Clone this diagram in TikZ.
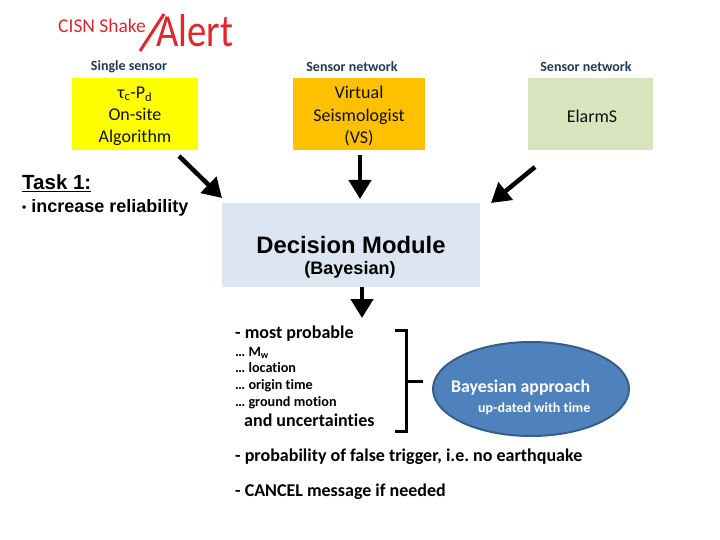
\documentclass[tikz,border=0pt]{standalone}
\usepackage{fontspec}
\setmainfont{Carlito}[Ligatures=NoCommon]
\newfontfamily\arial{Liberation Sans}
\usetikzlibrary{arrows.meta,shapes.geometric}
\definecolor{alertred}{HTML}{E3262B}
\definecolor{navy}{HTML}{1F3B5A}
\definecolor{boxyellow}{HTML}{FFFF00}
\definecolor{boxorange}{HTML}{FFC000}
\definecolor{boxgreen}{HTML}{D7E4BD}
\definecolor{boxblue}{HTML}{DCE6F2}
\definecolor{ellfill}{HTML}{4F81BD}
\definecolor{elldraw}{HTML}{385D8A}
\definecolor{txt}{HTML}{101010}
\tikzset{
  srcbox/.style={minimum width=#1, minimum height=72pt, inner sep=0pt},
  srctext/.style={inner sep=0pt, align=center, font=\fontsize{18}{22}\selectfont, text=txt},
  caption/.style={font=\bfseries\fontsize{14}{16}\selectfont, text=navy},
  bigarrow/.style={line width=4.5pt, -{Triangle[length=19pt,width=22pt]}},
  listitem/.style={anchor=base west, inner sep=0pt, font=\bfseries\fontsize{14.2}{16}\selectfont},
  mainitem/.style={anchor=base west, inner sep=0pt, font=\bfseries\fontsize{18}{20}\selectfont},
}
\begin{document}
\begin{tikzpicture}[x=1pt,y=-1pt]
\useasboundingbox (0,0) rectangle (720,540);
% title
\node[anchor=base west, inner sep=0pt, text=alertred, font=\fontsize{19.5}{22}\selectfont] (cisn) at (58,33) {CISN Shake};
\node[anchor=base west, inner sep=0pt, text=alertred, font=\fontsize{46}{50}\selectfont] (alert) at (156,47) {\scalebox{0.84}[1]{Alert}};
\coordinate (slA) at (140,51);
\coordinate (slB) at (164,14);
\draw[alertred, line width=3pt] (slA) -- (slB);
% captions
\node[caption] (cap1) at (129,67) {Single sensor};
\node[caption] (cap2) at (352,67) {Sensor network};
\node[caption] (cap3) at (586,67) {Sensor network};
% source boxes
\node[srcbox=126pt, fill=boxyellow] (onsite) at (135,114) {};
\node[srctext] (onsitet) at (135,116) {τ\textsubscript{c}-P\textsubscript{d}\\On-site\\Algorithm};
\node[srcbox=132pt, fill=boxorange] (vs) at (359,114) {};
\node[srctext] (vst) at (359,116) {Virtual\\Seismologist\\(VS)};
\node[srcbox=125pt, fill=boxgreen] (elarms) at (590.5,114) {};
\node[srctext] (elarmst) at (592,116) {ElarmS};
% task
\node[anchor=base west, inner sep=0pt, font=\arial\bfseries\fontsize{20.5}{22}\selectfont] (task) at (22,190) {\underline{Task 1:}};
\node[anchor=base west, inner sep=0pt, font=\arial\bfseries\fontsize{18}{20}\selectfont] (reli) at (22,213) {{\fontsize{12}{12}\selectfont\raisebox{1.5pt}{\textbullet}}\ increase reliability};
% decision module
\node[fill=boxblue, minimum width=258pt, minimum height=83pt, inner sep=0pt] (dm) at (351,245) {};
\node[inner sep=0pt, font=\arial\bfseries\fontsize{23.8}{26}\selectfont] (dmt) at (351,245) {Decision Module};
\node[inner sep=0pt, font=\arial\bfseries\fontsize{18}{20}\selectfont] (dmb) at (350,270) {(Bayesian)};
% arrows
\coordinate (a1s) at (179,156);
\coordinate (a1e) at (222,198);
\draw[bigarrow] (a1s) -- (a1e);
\coordinate (a2s) at (360,155);
\coordinate (a2e) at (360,199);
\draw[bigarrow] (a2s) -- (a2e);
\coordinate (a3s) at (535,167);
\coordinate (a3e) at (491,203);
\draw[bigarrow] (a3s) -- (a3e);
\coordinate (a4s) at (362,287);
\coordinate (a4e) at (362,318);
\draw[bigarrow] (a4s) -- (a4e);
% list
\node[mainitem] (mp) at (235,338) {- most probable};
\node[listitem] (mw) at (235,356) {\ldots\ M\textsubscript{w}};
\node[listitem] (loc) at (235,372) {\ldots\ location};
\node[listitem] (ot) at (235,389) {\ldots\ origin time};
\node[listitem] (gm) at (235,406) {\ldots\ ground motion};
\node[mainitem] (unc) at (244,426) {and uncertainties};
% bracket
\coordinate (brT) at (395,330);
\coordinate (brB) at (395,431);
\coordinate (brM) at (406,381);
\coordinate (brTip) at (423,381);
\draw[line width=3pt] (brT) -| (406,431) -- (brB);
\draw[line width=3pt] (brM) -- (brTip);
% ellipse
\node[ellipse, fill=ellfill, draw=elldraw, line width=2pt, minimum width=196pt, minimum height=94pt] (ell) at (531,389) {};
\node[anchor=base west, inner sep=0pt, text=white, font=\bfseries\fontsize{17.8}{20}\selectfont] (ba) at (451,392) {Bayesian approach};
\node[anchor=base west, inner sep=0pt, text=white, font=\bfseries\fontsize{14}{16}\selectfont] (upd) at (478,412) {up-dated with time};
% bottom lines
\node[mainitem] (prob) at (235,461) {- probability of false trigger, i.e.\ no earthquake};
\node[mainitem] (cancel) at (235,496) {- CANCEL message if needed};
\end{tikzpicture}
\end{document}
